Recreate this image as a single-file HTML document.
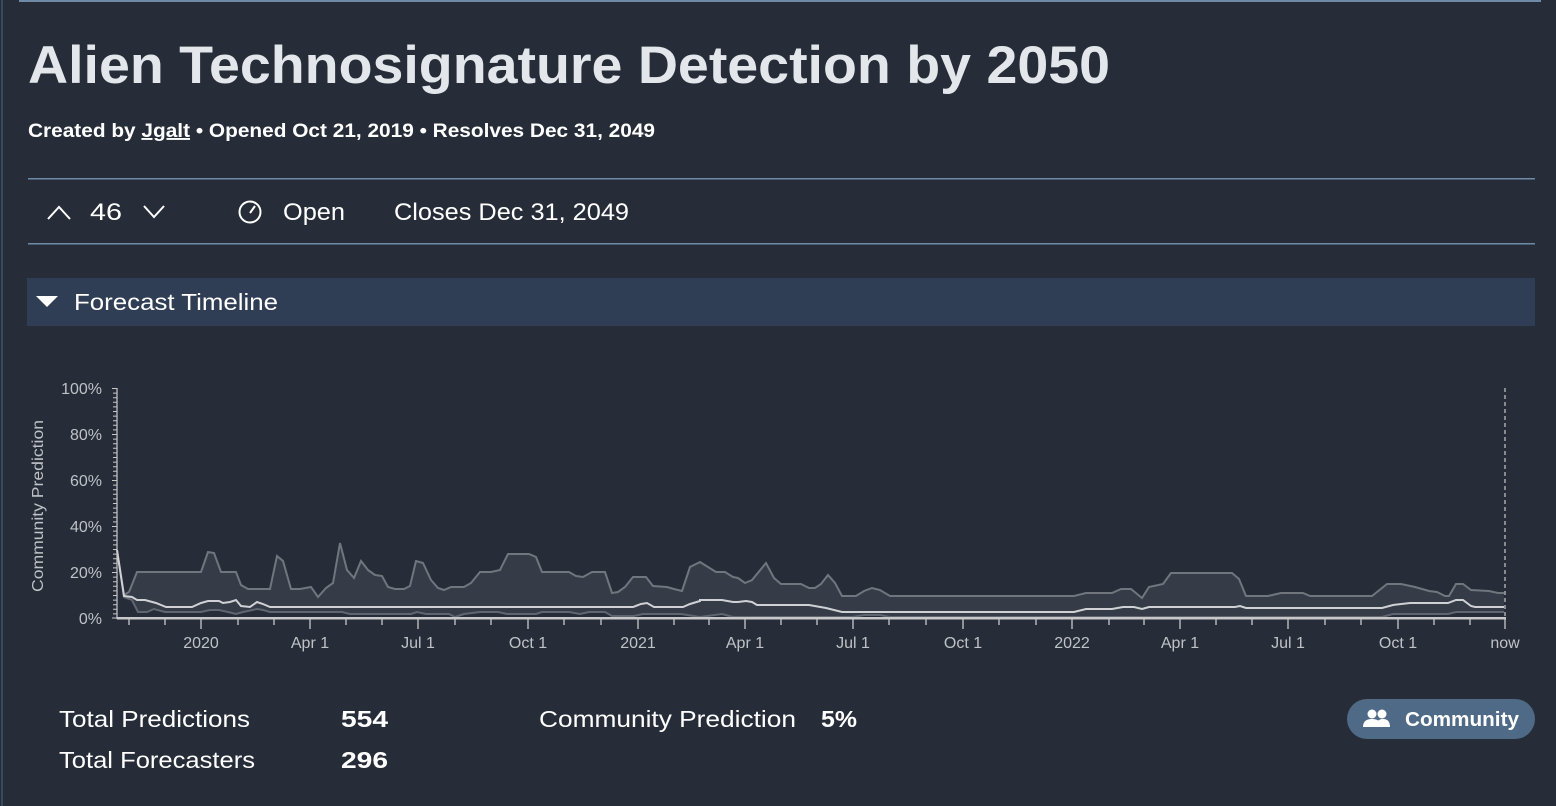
<!DOCTYPE html>
<html><head><meta charset="utf-8"><style>
html,body{margin:0;padding:0;background:#262d38;width:1556px;height:806px;overflow:hidden}
svg{display:block}
text{font-family:"Liberation Sans",sans-serif}
</style></head><body>
<svg width="1556" height="806" viewBox="0 0 1556 806" xmlns="http://www.w3.org/2000/svg">
<rect width="1556" height="806" fill="#262d38"/>
<rect x="1" y="0" width="2" height="806" fill="#3a4a5e"/>
<rect x="19" y="0" width="1522" height="2" fill="#6f8aa6"/>
<text x="28" y="83" font-size="53" font-weight="bold" fill="#e3e7eb" textLength="1082" lengthAdjust="spacingAndGlyphs">Alien Technosignature Detection by 2050</text>
<text x="28" y="137" font-size="19" font-weight="bold" fill="#ffffff" textLength="627" lengthAdjust="spacingAndGlyphs">Created by <tspan text-decoration="underline">Jgalt</tspan> • Opened Oct 21, 2019 • Resolves Dec 31, 2049</text>
<rect x="28" y="178" width="1507" height="1.5" fill="#6f8aa6"/>
<rect x="28" y="243" width="1507" height="1.5" fill="#6f8aa6"/>
<polyline points="48,219 59,207 70,219" fill="none" stroke="#fff" stroke-width="2"/>
<text x="90" y="220" font-size="24" fill="#fff" textLength="32" lengthAdjust="spacingAndGlyphs">46</text>
<polyline points="144,206 154,217 164,206" fill="none" stroke="#fff" stroke-width="2"/>
<circle cx="250" cy="212" r="10.5" fill="none" stroke="#fff" stroke-width="2"/>
<line x1="250" y1="213" x2="255" y2="206" stroke="#fff" stroke-width="2"/>
<text x="283" y="220" font-size="24" fill="#fff" textLength="62" lengthAdjust="spacingAndGlyphs">Open</text>
<text x="394" y="220" font-size="24" fill="#fff" textLength="235" lengthAdjust="spacingAndGlyphs">Closes Dec 31, 2049</text>
<rect x="27" y="278" width="1508" height="48" fill="#2f3e54"/>
<polygon points="36,296 58,296 47,307" fill="#fff"/>
<text x="74" y="310" font-size="23" fill="#fff" textLength="204" lengthAdjust="spacingAndGlyphs">Forecast Timeline</text>

<!-- chart -->
<polygon fill="#353c47" points="117,550 124,595 129,592 137,572 201,572 208,552 214,553 221,572 236,572 241,585 248,589 270,589 277,556 283,561 291,589 300,589 311,587 318,597 326,588 333,583 340,543 347,570 354,578 361,561 368,570 375,575 382,576 388,587 395,589 404,589 410,586 416,561 423,563 431,580 438,588 444,590 451,587 464,587 471,583 480,572 491,572 500,570 508,554 529,554 536,557 542,572 569,572 576,576 583,577 592,572 605,572 612,593 618,592 625,587 633,577 646,577 653,586 667,587 674,589 682,591 690,567 700,562 716,572 725,572 733,577 738,578 745,583 752,580 766,563 774,578 781,584 801,584 809,588 815,588 821,584 828,575 835,583 842,596 856,596 864,591 872,588 880,590 890,596 1074,596 1086,593 1112,593 1121,589 1131,589 1142,598 1149,587 1163,584 1171,573 1232,573 1239,579 1246,596 1268,596 1281,593 1303,593 1310,596 1372,596 1387,584 1401,584 1415,587 1429,591 1437,592 1445,596 1449,596 1456,584 1463,584 1471,590 1489,591 1498,593 1504,593 1504,612 1475,612 1467,612 1456,612 1448,614 1393,614 1382,617 890,617 880,615 864,615 853,617 733,617 722,614 700,617 681,614 643,614 634,616 612,616 605,612 589,612 580,614 569,612 542,612 536,614 507,614 498,612 480,612 464,614 455,617 449,614 426,614 417,612 411,614 350,614 342,612 270,612 263,610 257,609 243,612 236,614 228,612 219,610 210,610 201,612 165,612 154,609 147,612 138,612 132,600 124,597 117,550"/>
<polyline fill="none" stroke="#70757e" stroke-width="2" points="117,550 124,595 129,592 137,572 201,572 208,552 214,553 221,572 236,572 241,585 248,589 270,589 277,556 283,561 291,589 300,589 311,587 318,597 326,588 333,583 340,543 347,570 354,578 361,561 368,570 375,575 382,576 388,587 395,589 404,589 410,586 416,561 423,563 431,580 438,588 444,590 451,587 464,587 471,583 480,572 491,572 500,570 508,554 529,554 536,557 542,572 569,572 576,576 583,577 592,572 605,572 612,593 618,592 625,587 633,577 646,577 653,586 667,587 674,589 682,591 690,567 700,562 716,572 725,572 733,577 738,578 745,583 752,580 766,563 774,578 781,584 801,584 809,588 815,588 821,584 828,575 835,583 842,596 856,596 864,591 872,588 880,590 890,596 1074,596 1086,593 1112,593 1121,589 1131,589 1142,598 1149,587 1163,584 1171,573 1232,573 1239,579 1246,596 1268,596 1281,593 1303,593 1310,596 1372,596 1387,584 1401,584 1415,587 1429,591 1437,592 1445,596 1449,596 1456,584 1463,584 1471,590 1489,591 1498,593 1504,593"/>
<polyline fill="none" stroke="#60666f" stroke-width="2" points="117,550 124,597 132,600 138,612 147,612 154,609 165,612 201,612 210,610 219,610 228,612 236,614 243,612 257,609 263,610 270,612 342,612 350,614 411,614 417,612 426,614 449,614 455,617 464,614 480,612 498,612 507,614 536,614 542,612 569,612 580,614 589,612 605,612 612,616 634,616 643,614 681,614 700,617 722,614 733,617 853,617 864,615 880,615 890,617 1382,617 1393,614 1448,614 1456,612 1467,612 1475,612 1504,612"/>
<polyline fill="none" stroke="#cfd1d4" stroke-width="2" points="117,550 124,596 132,597 137,600 145,600 156,603 166,607 192,607 201,603 208,601 219,601 223,603 230,602 236,600 241,606 250,607 257,602 263,604 270,607 633,607 641,604 647,603 654,607 683,607 690,604 700,601 700,600 722,600 733,602 738,602 746,601 752,602 757,605 809,605 826,608 842,612 1074,612 1086,609 1112,609 1123,607 1134,607 1142,609 1149,607 1235,607 1240,606 1246,608 1382,608 1393,605 1410,603 1448,603 1456,600 1463,600 1471,606 1475,607 1504,607"/>

<line x1="1505" y1="388" x2="1505" y2="618" stroke="#c8c8c8" stroke-width="1.2" stroke-dasharray="4,3"/>
<g stroke="#c8c8c8" stroke-width="1.2">
<line x1="117" y1="388" x2="117" y2="619"/>
</g>
<g stroke="#c8c8c8" stroke-width="1">
<path d="M112,388.5h5M112,434.5h5M112,480.5h5M112,526.5h5M112,572.5h5M112,618h5"/>
<path id="mt" d="M113,393.1h4M113,397.7h4M113,402.3h4M113,406.9h4M113,411.5h4M113,416.1h4M113,420.7h4M113,425.3h4M113,429.9h4"/>
<use href="#mt" y="46"/><use href="#mt" y="92"/><use href="#mt" y="138"/><use href="#mt" y="184"/>
</g>
<rect x="117" y="617" width="1389" height="2.5" fill="#c8c8c8"/>
<g stroke="#c8c8c8" stroke-width="1.3">
<path d="M129,619v6M165,619v6M238,619v6M274,619v6M346,619v6M382,619v6M455,619v6M491,619v6M564,619v6M601,619v6M674,619v6M709,619v6M781,619v6M817,619v6M889,619v6M926,619v6M999,619v6M1036,619v6M1109,619v6M1144,619v6M1216,619v6M1252,619v6M1325,619v6M1361,619v6M1434,619v6M1470,619v6"/>
<path d="M201,619v10M310,619v10M418,619v10M528,619v10M638,619v10M745,619v10M853,619v10M963,619v10M1072,619v10M1180,619v10M1288,619v10M1398,619v10M1505,619v10"/>
</g>
<g font-size="16" fill="#bfc2c6" text-anchor="end">
<text x="102" y="394">100%</text><text x="102" y="440">80%</text><text x="102" y="486">60%</text><text x="102" y="532">40%</text><text x="102" y="578">20%</text><text x="102" y="624">0%</text>
</g>
<text transform="translate(43,506) rotate(-90)" font-size="16" fill="#bfc2c6" text-anchor="middle" textLength="172" lengthAdjust="spacingAndGlyphs">Community Prediction</text>
<g font-size="16" fill="#bfc2c6" text-anchor="middle">
<text x="201" y="648">2020</text><text x="310" y="648">Apr 1</text><text x="418" y="648">Jul 1</text><text x="528" y="648">Oct 1</text><text x="638" y="648">2021</text><text x="745" y="648">Apr 1</text><text x="853" y="648">Jul 1</text><text x="963" y="648">Oct 1</text><text x="1072" y="648">2022</text><text x="1180" y="648">Apr 1</text><text x="1288" y="648">Jul 1</text><text x="1398" y="648">Oct 1</text><text x="1505" y="648">now</text>
</g>

<g font-size="23" fill="#fff">
<text x="59" y="727" textLength="191" lengthAdjust="spacingAndGlyphs">Total Predictions</text>
<text x="59" y="768" textLength="196" lengthAdjust="spacingAndGlyphs">Total Forecasters</text>
<text x="341" y="727" font-weight="bold" textLength="47" lengthAdjust="spacingAndGlyphs">554</text>
<text x="341" y="768" font-weight="bold" textLength="47" lengthAdjust="spacingAndGlyphs">296</text>
<text x="539" y="727" textLength="257" lengthAdjust="spacingAndGlyphs">Community Prediction</text>
<text x="821" y="727" font-weight="bold" textLength="36" lengthAdjust="spacingAndGlyphs">5%</text>
</g>
<rect x="1347" y="699" width="188" height="40" rx="20" fill="#4f6a86"/>
<g fill="#fff">
<circle cx="1372" cy="714" r="4.5"/><circle cx="1382" cy="714" r="4.5"/>
<path d="M1363,727 q0,-8 9,-8 q9,0 9,8z"/><path d="M1376,727 q0,-8 7,-8 q7,0 7,8z"/>
</g>
<text x="1405" y="726" font-size="20" font-weight="bold" fill="#fff" textLength="114" lengthAdjust="spacingAndGlyphs">Community</text>
</svg>
</body></html>
